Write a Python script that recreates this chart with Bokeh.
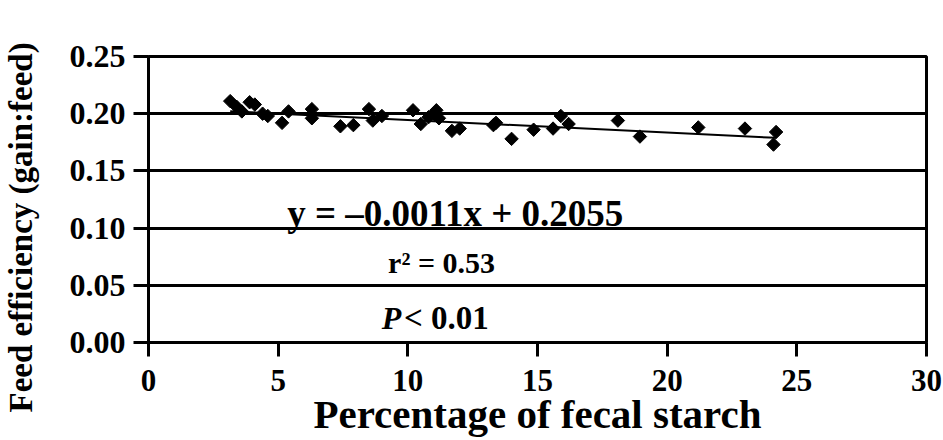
import numpy as np
from bokeh.plotting import figure
from bokeh.models import Range1d, Label, Title, SingleIntervalTicker, NumeralTickFormatter
from bokeh.embed import file_html
from bokeh.resources import INLINE

# Data
fecal_starch = [3.15, 3.4, 3.6, 3.9, 4.1, 4.4, 4.6, 5.15, 5.4, 6.3, 6.3, 7.4, 7.9, 8.5,
                8.65, 9.0, 10.2, 10.5, 10.8, 11.0, 11.1, 11.2, 11.7, 12.0, 13.3, 13.4,
                14.0, 14.85, 15.6, 15.9, 16.2, 18.1, 18.95, 21.2, 23.0, 24.1, 24.2]
feed_eff = [0.211, 0.206, 0.202, 0.210, 0.208, 0.200, 0.198, 0.192, 0.202, 0.204, 0.196,
            0.189, 0.190, 0.204, 0.194, 0.198, 0.203, 0.191, 0.197, 0.200, 0.203, 0.196,
            0.185, 0.187, 0.190, 0.192, 0.178, 0.186, 0.187, 0.198, 0.191, 0.194, 0.180,
            0.188, 0.187, 0.173, 0.184]
slope = -0.0011
intercept = 0.2055
eq_text = "y = \u20130.0011x + 0.2055"
r2_text = "r\u00b2 = 0.53"
p_text = "< 0.01"
x_title = "Percentage of fecal starch"
y_title = "Feed efficiency (gain:feed)"

FONT = "Liberation Serif"

p = figure(width=943, height=440, output_backend="svg", toolbar_location=None,
           x_range=Range1d(0, 30), y_range=Range1d(0, 0.25),
           min_border_left=148, min_border_right=17, min_border_top=56, min_border_bottom=98)
p.background_fill_color = "white"
p.border_fill_color = "white"
p.outline_line_color = "black"
p.outline_line_width = 3

p.xgrid.visible = False
p.ygrid.grid_line_color = "black"
p.ygrid.grid_line_width = 3
p.ygrid.ticker = SingleIntervalTicker(interval=0.05)

p.xaxis.ticker = SingleIntervalTicker(interval=5)
p.yaxis.ticker = SingleIntervalTicker(interval=0.05)
p.yaxis.formatter = NumeralTickFormatter(format="0.00")
for ax in (p.xaxis, p.yaxis):
    ax.axis_line_width = 3
    ax.axis_line_color = "black"
    ax.major_tick_line_width = 3
    ax.major_tick_line_color = "black"
    ax.major_tick_in = 0
    ax.minor_tick_line_color = None
    ax.major_label_text_font = FONT
    ax.major_label_text_font_style = "bold"
    ax.major_label_text_font_size = "31px"
    ax.major_label_text_color = "black"
    ax.axis_label_text_font = FONT
    ax.axis_label_text_font_style = "bold"
    ax.axis_label_text_color = "black"
p.yaxis.major_label_text_font_size = "32px"
p.yaxis.major_tick_out = 15
p.xaxis.major_tick_out = 14
p.yaxis.major_label_standoff = 8
p.xaxis.major_label_standoff = 13

p.xaxis.axis_label = x_title
p.xaxis.axis_label_text_font_size = "41px"
p.xaxis.axis_label_standoff = -3

# spacer panel between the tick labels and the vertical title
p.add_layout(Title(text="\u00a0", text_font_size="1px", standoff=24), "left")
p.add_layout(Title(text=y_title, align="left", offset=-70, vertical_align="middle",
                   standoff=0, text_font=FONT, text_font_style="bold",
                   text_font_size="33px", text_color="black"), "left")

# points
p.scatter(fecal_starch, feed_eff, marker="square", angle=np.pi / 4, size=9.5,
          fill_color="black", line_color="black")

# regression line
xs = np.array([min(fecal_starch), max(fecal_starch)])
p.line(xs, intercept + slope * xs, line_color="black", line_width=2)

p.add_layout(Label(x=11.83, y=0.1125, text=eq_text, text_font=FONT, text_font_style="bold",
                   text_font_size="37px", text_align="center", text_baseline="middle",
                   text_color="black"))
p.add_layout(Label(x=11.3, y=0.07, text=r2_text, text_font=FONT, text_font_style="bold",
                   text_font_size="30px", text_align="center", text_baseline="middle",
                   text_color="black"))
p.add_layout(Label(x=9.75, y=0.021, text="P", text_font=FONT, text_font_style="bold italic",
                   text_font_size="32px", text_align="right", text_baseline="middle",
                   text_color="black"))
p.add_layout(Label(x=9.85, y=0.021, text=p_text, text_font=FONT, text_font_style="bold",
                   text_font_size="33px", text_align="left", text_baseline="middle",
                   text_color="black"))

open("out.html", "w").write(file_html(p, INLINE))
